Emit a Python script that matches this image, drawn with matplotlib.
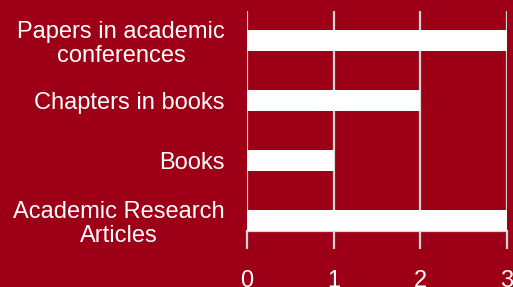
"""Publication counts by type, horizontal bar chart."""

import matplotlib.pyplot as plt

categories = [
    "Papers in academic\nconferences",
    "Chapters in books",
    "Books",
    "Academic Research\nArticles",
]
counts = [3, 2, 1, 3]
x_ticks = [0, 1, 2, 3]

BG = "#9d0016"
GRID = "#d4d4d4"

plt.rcParams["font.family"] = ["Liberation Sans", "DejaVu Sans"]

fig = plt.figure(figsize=(5.13, 2.87), dpi=100, facecolor=BG)
ax = fig.add_axes([247 / 513, 1 - 231 / 287, 260 / 513, 220 / 287])
ax.set_facecolor(BG)

positions = list(range(len(categories)))
ax.barh(positions, counts, height=0.35, color="white", zorder=3)

ax.set_xlim(0, 3)
ax.set_ylim(3.175, -0.49)
ax.set_xticks(x_ticks)
ax.set_xticklabels([str(t) for t in x_ticks])
ax.set_yticks(positions)
ax.set_yticklabels(categories, multialignment="center", linespacing=1.1)

ax.grid(axis="x", color=GRID, linewidth=1.6, zorder=1)
for side in ("top", "right", "left"):
    ax.spines[side].set_visible(False)
ax.spines["bottom"].set_color(GRID)
ax.spines["bottom"].set_linewidth(1.6)

ax.tick_params(axis="x", colors=GRID, length=13, width=1.6, pad=15,
               labelcolor="white", labelsize=17)
ax.tick_params(axis="y", length=0, pad=16, labelcolor="white", labelsize=17)

fig.savefig("out.png", dpi=100, facecolor=BG)
